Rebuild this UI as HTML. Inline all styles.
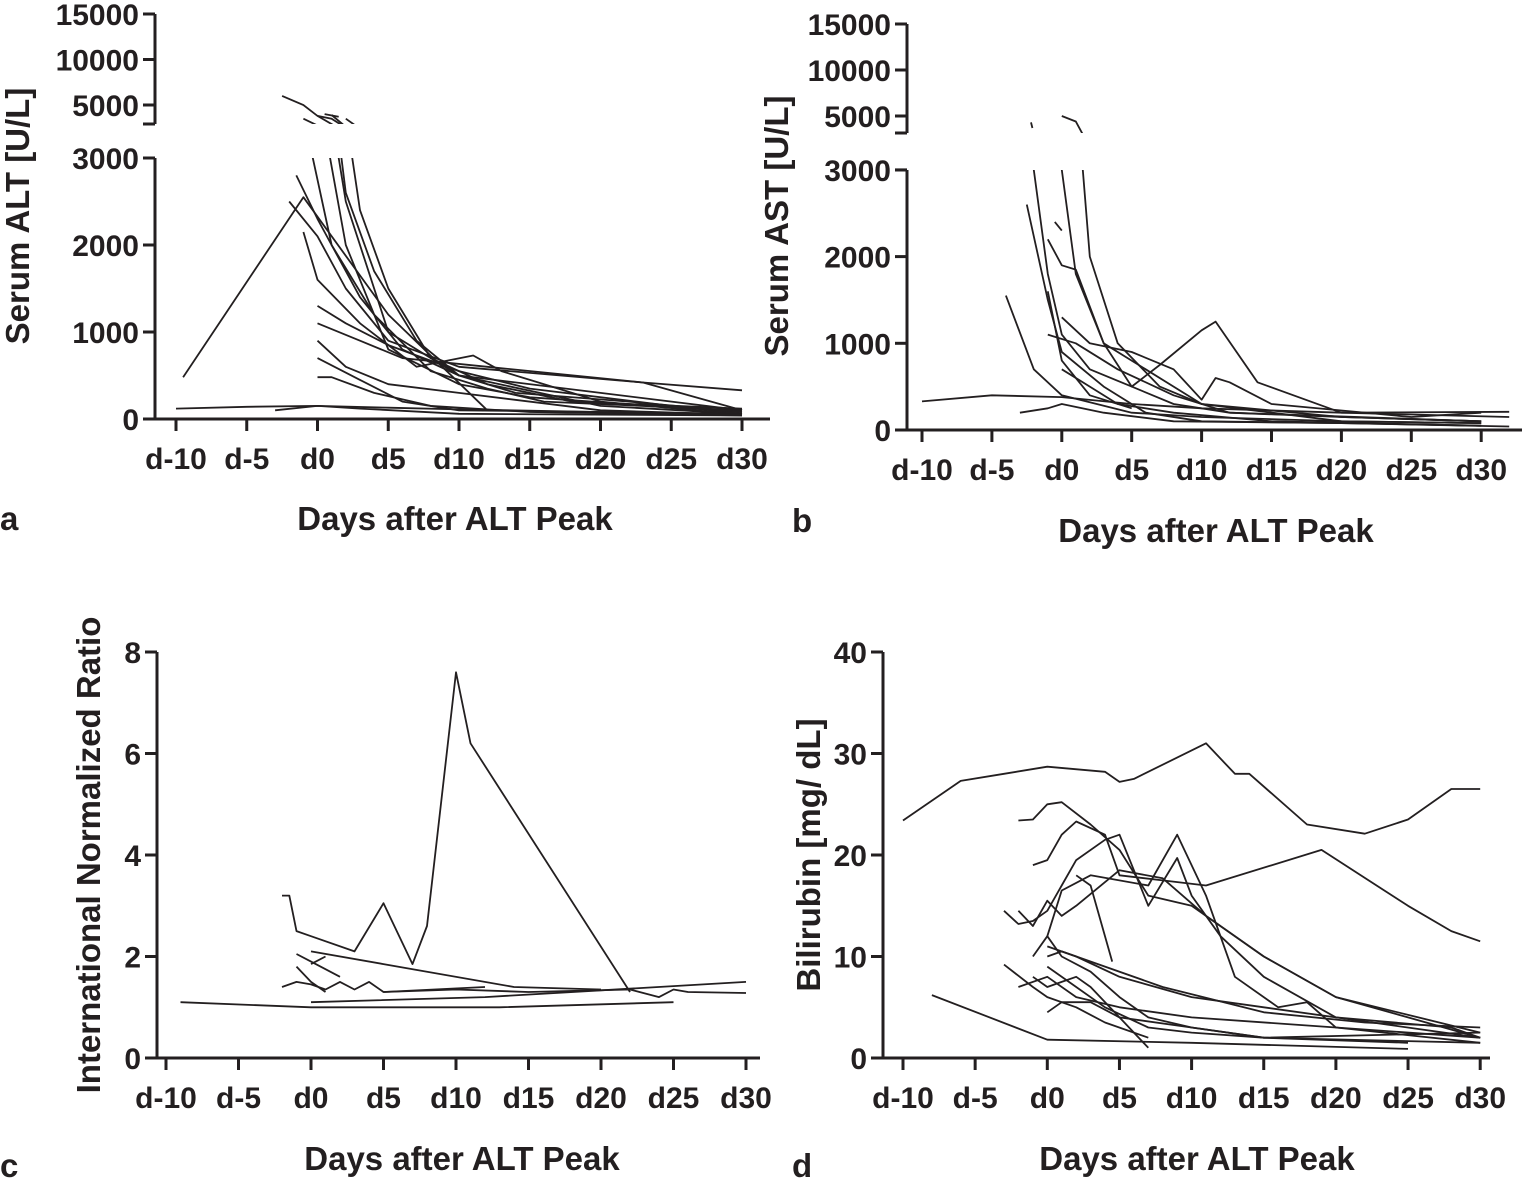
<!DOCTYPE html>
<html><head><meta charset="utf-8">
<style>
html,body{margin:0;padding:0;background:#fff;}
svg text{font-family:"Liberation Sans",sans-serif;font-weight:bold;fill:#231f20;}
</style></head>
<body>
<svg id="chart" width="1524" height="1186" viewBox="0 0 1524 1186" xmlns="http://www.w3.org/2000/svg">
<defs>
<clipPath id="clipALo"><rect x="150" y="158" width="640" height="300"/></clipPath>
<clipPath id="clipAHi"><rect x="150" y="0" width="640" height="124"/></clipPath>
<clipPath id="clipBLo"><rect x="900" y="170" width="624" height="300"/></clipPath>
<clipPath id="clipBHi"><rect x="900" y="0" width="624" height="133"/></clipPath>
</defs>
</svg>
<script>
// x-axis categories (days)
const dayTicks = [-10,-5,0,5,10,15,20,25,30];
const dayTickLabels = ["d-10","d-5","d0","d5","d10","d15","d20","d25","d30"];
// panel a: ALT
const altLowTicks = [0,1000,2000,3000];
const altHighTicks = [5000,10000,15000];
const altSeries = [
 [[-9.5,480],[-1,2550],[5,1200],[12,100]],
 [[-10,120],[-5,140],[0,150],[5,130],[10,110],[20,80],[30,60]],
 [[-3,100],[0,150],[3,120],[10,60],[30,40]],
 [[-2.5,6000],[-1,5000],[0,3800],[2,2000],[5,800],[10,400],[15,250],[30,80]],
 [[0,3800],[1,3500],[2,2500],[5,1000],[10,500],[20,300],[30,100]],
 [[-1,3500],[1,2000],[3,1400],[6,800],[10,500],[20,150],[30,60]],
 [[-2,2500],[0,2100],[2,1500],[5,900],[10,600],[23,420],[30,330]],
 [[-1,2150],[0,1600],[3,1100],[7,600],[11,730],[13,550],[20,200],[30,50]],
 [[0,1300],[2,1100],[5,850],[10,550],[15,350],[25,150],[30,60]],
 [[0,1100],[3,900],[6,700],[12,600],[23,420],[30,100]],
 [[0,900],[2,600],[5,400],[10,300],[20,100],[30,50]],
 [[0,480],[1,480],[4,300],[8,150],[15,80],[30,40]],
 [[0,700],[3,450],[6,200],[10,100],[20,80],[30,50]],
 [[-1.5,2800],[0,2300],[1,2000],[4,1200],[8,550],[12,350],[16,200],[30,100]],
 [[1,3900],[2,2600],[4,1700],[7,900],[10,500],[14,300],[22,200],[30,80]],
 [[2,3500],[3,2400],[5,1500],[8,700],[12,400],[18,200],[30,120]],
 [[0.5,4000],[1.5,3700]]
];
// panel b: AST
const astLowTicks = [0,1000,2000,3000];
const astHighTicks = [5000,10000,15000];
const astSeries = [
 [[-10,330],[-5,400],[0,380],[5,300],[10,250],[20,200],[32,210]],
 [[-4,1550],[-2,700],[0,400],[5,200],[10,150],[20,100],[30,80]],
 [[-2.5,2600],[-1,1500],[0,900],[3,500],[6,200],[10,100],[20,80],[30,50]],
 [[-2,3000],[-1,1800],[0,1100],[2,700],[5,500],[7,750],[10,1150],[11,1250],[14,550],[20,200],[32,150]],
 [[-1,2200],[0,1900],[1,1850],[3,1000],[6,700],[10,300],[20,100],[30,80]],
 [[0,3000],[1,1800],[3,1000],[5,500],[8,300],[12,200],[30,100]],
 [[0,5000],[1,4400],[1.5,3000],[2,2000],[4,1000],[7,500],[10,300],[20,150],[30,100]],
 [[0,1300],[2,1000],[5,900],[8,700],[10,350],[11,600],[12,550],[15,300],[25,150],[30,200]],
 [[-1,1100],[1,1000],[4,700],[8,400],[12,200],[20,150],[30,100]],
 [[0,700],[2,500],[4,300],[8,200],[15,100],[30,50]],
 [[-3,200],[-1,250],[0,300],[3,200],[8,100],[20,80],[32,40]],
 [[-0.5,2400],[0,2300]],
 [[-1,1600],[0,800],[2,400],[5,250]],
 [[-2.2,4300],[-2.1,3700]]
];
// panel c: INR
const inrTicks = [0,2,4,6,8];
const inrSeries = [
 [[-2,3.2],[-1.5,3.2],[-1,2.5],[0,2.4],[3,2.1],[5,3.05],[7,1.85],[8,2.6],[10,7.6],[11,6.2],[22,1.3]],
 [[-9,1.1],[0,1.0],[13,1.0],[25,1.1]],
 [[0,1.1],[12,1.2],[30,1.5]],
 [[-2,1.4],[-1,1.5],[0,1.45],[1,1.35],[2,1.5],[3,1.35],[4,1.5],[5,1.3],[10,1.35],[15,1.3],[22,1.35],[24,1.2],[25,1.35],[26,1.3],[30,1.28]],
 [[-1,2.05],[0,1.9],[2,1.6]],
 [[-1,1.8],[0,1.5],[1,1.3]],
 [[0,1.85],[1,2.0]],
 [[0,2.1],[5,1.85],[14,1.4],[20,1.35]],
 [[5,1.3],[12,1.4]]
];
// panel d: bilirubin
const biliTicks = [0,10,20,30,40];
const biliSeries = [
 [[-10,23.4],[-6,27.3],[-3,28],[0,28.7],[4,28.2],[5,27.2],[6,27.5],[11,31],[13,28],[14,28],[18,23],[22,22.1],[25,23.5],[28,26.5],[30,26.5]],
 [[-2,23.4],[-1,23.5],[0,25],[1,25.2],[3,23],[5,20.5],[7,16],[10,15],[15,10],[20,6],[25,4],[30,2]],
 [[-1,19],[0,19.5],[1,22],[2,23.3],[4,22],[5,18],[8,17.5],[11,17],[19,20.5],[25,15],[28,12.5],[30,11.5]],
 [[-2,14.5],[-1,13],[0,15.5],[1,14],[2,15],[5,18.5],[8,17.7],[11,14],[15,10],[20,6],[30,2.5]],
 [[-3,14.5],[-2,13.2],[-1,13.5],[0,14.5],[1,17],[2,19.5],[4,21.5],[5,22],[7,15],[9,19.7],[10,16],[12,12],[15,8],[20,4],[30,2]],
 [[-1,10],[0,12],[1,16.5],[3,18],[7,17],[9,22],[11,16],[13,8],[16,5],[18,5.5],[20,3],[30,1.5]],
 [[0,11],[2,10],[5,8],[10,6],[15,5],[20,4],[28,3],[30,2]],
 [[0,10],[1,10.5],[4,9],[8,7],[15,4.5],[22,3.5],[30,3]],
 [[-2,7],[0,8],[2,6],[5,5],[10,4],[20,3],[30,2]],
 [[-3,9.2],[-1,7],[0,6],[2,5],[4,3.5],[7,2]],
 [[0,9],[2,7],[4,5],[7,3],[10,2.5],[15,2],[25,1.5]],
 [[-8,6.2],[0,1.8],[10,1.5],[25,0.9]],
 [[-1,8],[0,7],[1,7.5],[2,8],[3,7],[5,4],[7,1]],
 [[0,4.5],[1,5.5],[3,5.5],[5,4],[10,3],[15,2],[30,1.5]],
 [[0,12],[1,10],[3,8.5],[5,6],[7,4],[10,3],[15,2],[30,2.5]],
 [[2,18],[3,17],[4,12],[4.5,9.5]]
];

const svg = document.getElementById('chart');
const NS = 'http://www.w3.org/2000/svg';
const TICK_FS = 30, TITLE_FS = 33;
function mk(tag, attrs, parent){
  const e = document.createElementNS(NS, tag);
  for (const k in attrs) e.setAttribute(k, attrs[k]);
  (parent||svg).appendChild(e);
  return e;
}
function txt(x,y,s,size,anchor,parent,rot){
  const t = mk('text',{x:x,y:y,'font-size':size,'text-anchor':anchor||'middle'},parent);
  if (rot) t.setAttribute('transform','rotate(-90 '+x+' '+y+')');
  t.textContent = s;
  return t;
}

function drawPanel(p){
  const g = mk('g',{});
  
  
  const xs = d => p.x0 + (d + 10) * p.xPerDay;
  const yLow = v => p.y0 - v * p.yPer;
  const yHigh = v => p.hiY5000 - (v - 5000) * p.hiPer;
  const xa = mk('g',{},g);
  
  
  mk('line',{x1:p.xAxisStart,y1:p.y0,x2:p.xAxisEnd,y2:p.y0,stroke:'#231f20','stroke-width':3},xa);
  dayTicks.forEach((d,i)=>{
    mk('line',{x1:xs(d),y1:p.y0,x2:xs(d),y2:p.y0+12,stroke:'#231f20','stroke-width':3},xa);
    const t = txt(xs(d),p.y0+50,dayTickLabels[i],TICK_FS,'middle',xa);
    
    
  });
  const ya = mk('g',{},g);
  
  
  const top = p.broken ? p.loTop : yLow(p.lowTicks[p.lowTicks.length-1]);
  mk('line',{x1:p.yx,y1:top,x2:p.yx,y2:p.y0,stroke:'#231f20','stroke-width':3},ya);
  p.lowTicks.forEach(v=>{
    mk('line',{x1:p.yx-12,y1:yLow(v),x2:p.yx,y2:yLow(v),stroke:'#231f20','stroke-width':3},ya);
    const t = txt(p.yx-16,yLow(v)+11,String(v),TICK_FS,'end',ya);
    
    
  });
  if (p.broken){
    mk('line',{x1:p.yx,y1:yHigh(15000),x2:p.yx,y2:p.hiBottom,stroke:'#231f20','stroke-width':3},ya);
    mk('line',{x1:p.yx-12,y1:p.hiBottom,x2:p.yx,y2:p.hiBottom,stroke:'#231f20','stroke-width':3},ya);
    mk('line',{x1:p.yx-12,y1:p.loTop,x2:p.yx,y2:p.loTop,stroke:'#231f20','stroke-width':3},ya);
    p.highTicks.forEach(v=>{
      mk('line',{x1:p.yx-12,y1:yHigh(v),x2:p.yx,y2:yHigh(v),stroke:'#231f20','stroke-width':3},ya);
      const t = txt(p.yx-16,yHigh(v)+11,String(v),TICK_FS,'end',ya);
      
      
    });
  }
  p.series.forEach((s,i)=>{
    const ptsLo = s.map(q=>xs(q[0]).toFixed(1)+','+yLow(q[1]).toFixed(1)).join(' ');
    const l = mk('polyline',{points:ptsLo,fill:'none',stroke:'#231f20','stroke-width':1.8,'stroke-linejoin':'round'},g);
    
    
    if (p.broken){
      l.setAttribute('clip-path','url(#'+p.clipLo+')');
      const ptsHi = s.map(q=>xs(q[0]).toFixed(1)+','+yHigh(q[1]).toFixed(1)).join(' ');
      const h = mk('polyline',{points:ptsHi,fill:'none',stroke:'#231f20','stroke-width':1.8,'clip-path':'url(#'+p.clipHi+')'},g);
      
      
    }
  });
  const yt = txt(p.ytX,p.ytY,p.yTitle,TITLE_FS,'middle',g,true);
  
  
  const xt = txt(p.xtX,p.xtY,'Days after ALT Peak',TITLE_FS,'middle',g);
  
  
  const lt = txt(p.letX,p.letY,p.letter,TITLE_FS,'start',g);
  
  
}

drawPanel({name:'panel-a-alt',series:altSeries,lowTicks:altLowTicks,highTicks:altHighTicks,broken:true,
 x0:176,xPerDay:14.15,y0:419,yPer:0.087,hiY5000:105,hiPer:0.0091,loTop:158,hiBottom:124,
 clipLo:'clipALo',clipHi:'clipAHi',yx:155,xAxisStart:155,xAxisEnd:770,
 yTitle:'Serum ALT [U/L]',ytX:29,ytY:216,xtX:455,xtY:530,letter:'a',letX:0,letY:530});
drawPanel({name:'panel-b-ast',series:astSeries,lowTicks:astLowTicks,highTicks:astHighTicks,broken:true,
 x0:922,xPerDay:13.98,y0:430,yPer:0.0867,hiY5000:116,hiPer:0.0092,loTop:170,hiBottom:133,
 clipLo:'clipBLo',clipHi:'clipBHi',yx:907,xAxisStart:907,xAxisEnd:1522,
 yTitle:'Serum AST [U/L]',ytX:788,ytY:226,xtX:1216,xtY:542,letter:'b',letX:792,letY:532});
drawPanel({name:'panel-c-inr',series:inrSeries,lowTicks:inrTicks,broken:false,
 x0:166,xPerDay:14.5,y0:1058,yPer:50.75,yx:157,xAxisStart:157,xAxisEnd:760,
 yTitle:'International Normalized Ratio',ytX:100,ytY:855,xtX:462,xtY:1170,letter:'c',letX:0,letY:1177});
drawPanel({name:'panel-d-bilirubin',series:biliSeries,lowTicks:biliTicks,broken:false,
 x0:903,xPerDay:14.43,y0:1058,yPer:10.15,yx:883,xAxisStart:883,xAxisEnd:1490,
 yTitle:'Bilirubin [mg/ dL]',ytX:820,ytY:855,xtX:1197,xtY:1170,letter:'d',letX:792,letY:1177});
</script>
</body></html>
